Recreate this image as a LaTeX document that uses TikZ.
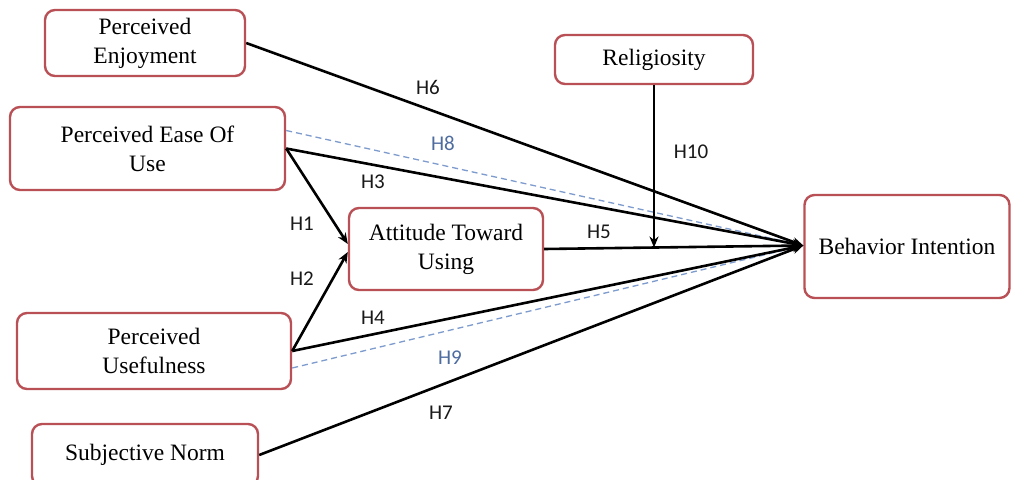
\documentclass[tikz,border=0pt]{standalone}
\usepackage{fontspec}
\setmainfont{Liberation Serif}
\newfontfamily\labelfont{Carlito}
\usetikzlibrary{arrows.meta,calc}
\definecolor{boxred}{RGB}{185,80,86}
\definecolor{dashblue}{RGB}{125,155,205}
\definecolor{hblue}{RGB}{78,108,160}
\begin{document}
\begin{tikzpicture}[x=1pt,y=-1pt,
  construct/.style={draw=boxred, line width=2.4pt, rounded corners=10pt, fill=white,
    align=center, inner sep=0pt, font=\fontsize{23.5}{29}\selectfont},
  link/.style={line width=2.6pt, black, -{Stealth[length=11pt,width=9pt]}},
  dashlink/.style={line width=1.3pt, dashblue, dash pattern=on 6pt off 4pt,
    -{Stealth[length=9pt,width=7pt]}},
  hyp/.style={font=\labelfont\fontsize{21}{21}\selectfont, text=black!90},
  hypblue/.style={hyp, text=hblue}]
\useasboundingbox (0,0) rectangle (1011,479);
\clip (0,0) rectangle (1011,479);
\fill[white] (0,0) rectangle (1011,479);

% constructs
\node[construct, minimum width=200pt, minimum height=66pt] (pe) at (145,43) {Perceived\\Enjoyment};
\node[construct, minimum width=275pt, minimum height=83pt] (eou) at (147.5,148.5) {Perceived Ease Of\\Use};
\node[construct, minimum width=198pt, minimum height=49pt] (rel) at (654,59.5) {Religiosity};
\node[construct, minimum width=194pt, minimum height=82pt] (att) at (446,249) {Attitude Toward\\Using};
\node[construct, minimum width=274pt, minimum height=76pt] (pu) at (154,351) {Perceived\\Usefulness};
\node[construct, minimum width=226pt, minimum height=62pt] (sn) at (145,455) {Subjective Norm};
\node[construct, minimum width=205pt, minimum height=103pt] (bi) at (907,246.5) {Behavior Intention};

% moderating paths (dashed)
\draw[dashlink] ([yshift=18pt]eou.east) -- ([yshift=1pt]bi.west);
\draw[dashlink] ([yshift=-17pt]pu.east) -- ([yshift=1pt]bi.west);

% direct paths
\draw[link] (pe.east) -- ([yshift=1pt]bi.west);
\draw[link] (eou.east) -- ([yshift=1pt]bi.west);
\draw[link] (eou.east) -- ([yshift=5pt]att.west);
\draw[link] (pu.east) -- ([yshift=-3pt]att.west);
\draw[link] (pu.east) -- ([yshift=1pt]bi.west);
\draw[link] (sn.east) -- ([yshift=1pt]bi.west);
\draw[link] (att.east) -- ([yshift=1pt]bi.west);
\coordinate (h10end) at (rel.south |- 0,247.5);
\draw[link] (rel.south) -- (h10end);

% hypothesis labels
\node[hyp] (h6) at (428,87) {H6};
\node[hypblue] (h8) at (443,143) {H8};
\node[hyp] (h3) at (373,182) {H3};
\node[hyp] (h10) at (691,152) {H10};
\node[hyp] (h1) at (302,224) {H1};
\node[hyp] (h2) at (302,279) {H2};
\node[hyp] (h5) at (599,232) {H5};
\node[hyp] (h4) at (373,318) {H4};
\node[hypblue] (h9) at (450,358) {H9};
\node[hyp] (h7) at (441,413) {H7};
\end{tikzpicture}
\end{document}
